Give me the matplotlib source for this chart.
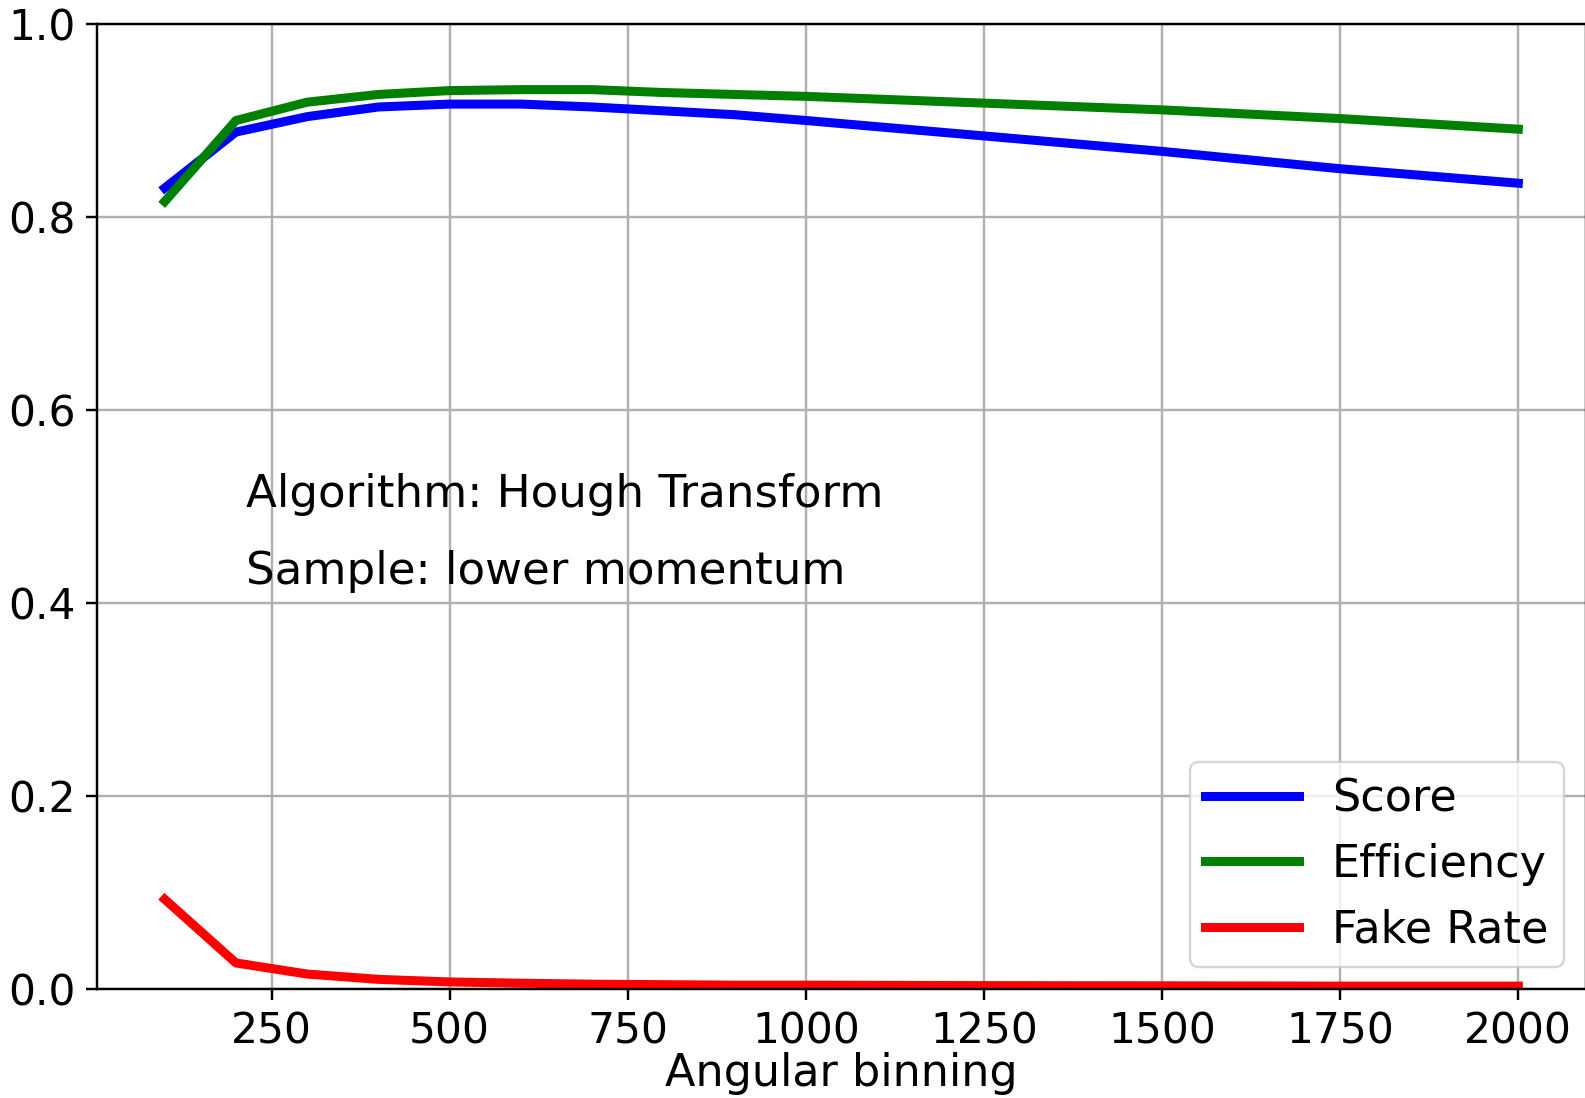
import matplotlib
matplotlib.use("Agg")
import matplotlib.pyplot as plt

# Data
binning = [100, 200, 300, 400, 500, 600, 700, 800, 900, 1000, 1250, 1500, 1750, 2000]
score = [0.830, 0.888, 0.904, 0.914, 0.917, 0.917, 0.914, 0.910, 0.906, 0.900, 0.884, 0.868, 0.850, 0.835]
efficiency = [0.816, 0.900, 0.919, 0.927, 0.931, 0.932, 0.932, 0.929, 0.927, 0.925, 0.918, 0.911, 0.902, 0.891]
fake_rate = [0.093, 0.027, 0.0155, 0.010, 0.0073, 0.006, 0.005, 0.0045, 0.004, 0.004, 0.0035, 0.0033, 0.003, 0.003]

labels = ["Score", "Efficiency", "Fake Rate"]
texts = ["Algorithm: Hough Transform", "Sample: lower momentum"]
x_label = "Angular binning"

FS = 30.5
S = 2.18

fig = plt.figure(figsize=(15.85, 10.98), dpi=100)
ax = fig.add_axes([97 / 1585, 1 - 989 / 1098, 1489 / 1585, 965 / 1098])

ax.plot(binning, score, color="blue", lw=6.5, label=labels[0])
ax.plot(binning, efficiency, color="green", lw=6.5, label=labels[1])
ax.plot(binning, fake_rate, color="red", lw=6.5, label=labels[2])

ax.set_ylim(0, 1.0)
ax.margins(x=0.05)
ax.set_yticks([0.0, 0.2, 0.4, 0.6, 0.8, 1.0])
ax.set_xticks([250, 500, 750, 1000, 1250, 1500, 1750, 2000])
ax.grid(True, color="#b0b0b0", lw=0.8 * S)
ax.tick_params(labelsize=FS, length=3.5 * S, width=0.8 * S, pad=3.5 * S)
for sp in ax.spines.values():
    sp.set_linewidth(0.8 * S)

ax.set_xlabel(x_label, fontsize=32, labelpad=0)

ax.text(0.1, 0.5, texts[0], transform=ax.transAxes, fontsize=32.5, va="baseline")
ax.text(0.1, 0.42, texts[1], transform=ax.transAxes, fontsize=32.5, va="baseline")

leg = ax.legend(loc="lower right", fontsize=32, handlelength=2.1, labelspacing=0.5,
                borderpad=0.35, handletextpad=0.75, borderaxespad=0.5)
leg.get_frame().set_linewidth(0.8 * S)

fig.savefig("out.png", dpi=100)
